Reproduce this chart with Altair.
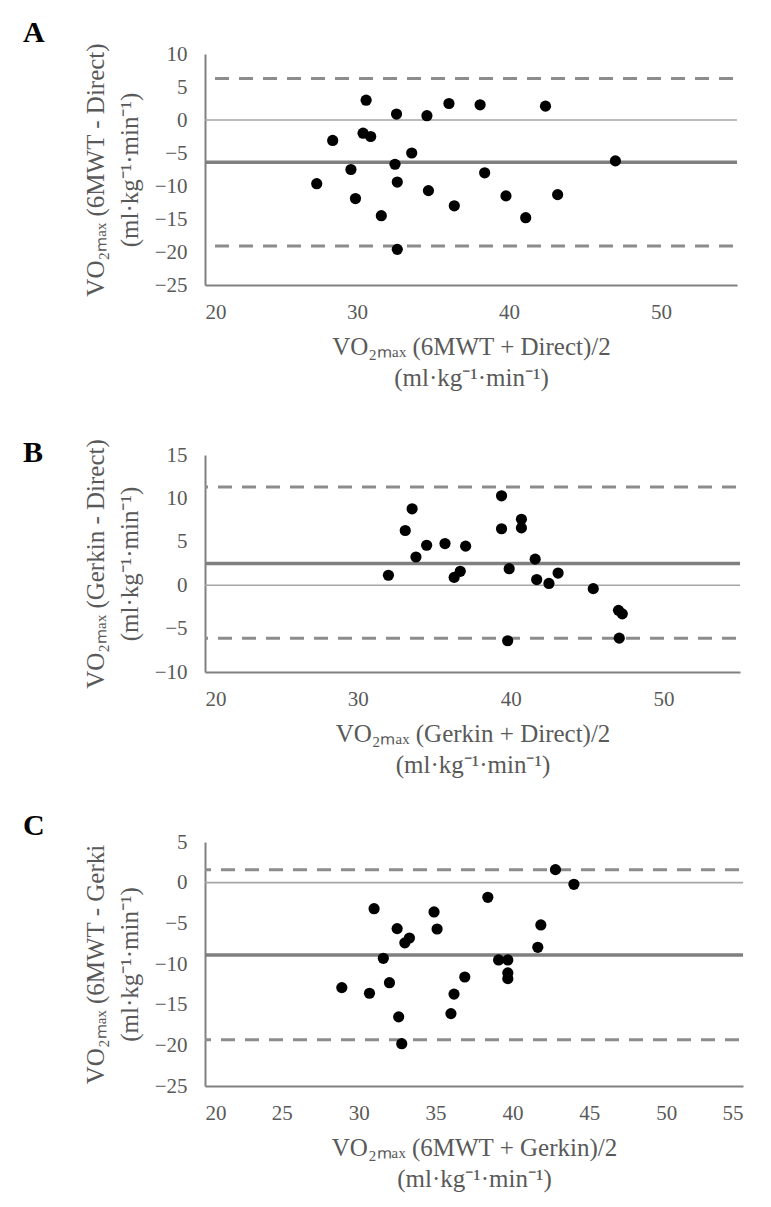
import altair as alt
import pandas as pd

FONT = "'Liberation Serif', 'Times New Roman', Times, serif"
TXT = "#595959"

# ---------------- Panel A: 6MWT vs Direct ----------------
a_mean = [27.35, 28.4, 29.6, 29.9, 30.6, 30.4, 30.9, 31.6, 32.6, 32.5, 32.65, 32.65,
          33.6, 34.6, 34.7, 36.05, 36.4, 38.1, 38.4, 39.8, 41.1, 42.4, 43.2, 47.0]
a_diff = [-9.65, -3.1, -7.5, -11.9, 3.0, -2.0, -2.5, -14.5, 0.9, -6.7, -9.4, -19.6,
          -5.0, 0.65, -10.7, 2.5, -13.0, 2.3, -8.0, -11.5, -14.8, 2.1, -11.3, -6.2]
a_bias = -6.4
a_loa = [6.3, -19.1]

# ---------------- Panel B: Gerkin vs Direct ----------------
b_mean = [32.0, 33.1, 33.55, 33.8, 34.5, 35.7, 36.3, 36.7, 37.05, 39.4, 39.4, 39.9,
          39.8, 40.7, 40.7, 41.6, 41.7, 42.5, 43.1, 45.4, 47.05, 47.3, 47.1]
b_diff = [1.15, 6.3, 8.8, 3.25, 4.6, 4.8, 0.9, 1.6, 4.5, 10.3, 6.5, 1.9,
          -6.4, 7.6, 6.6, 3.0, 0.65, 0.2, 1.4, -0.4, -2.9, -3.3, -6.1]
b_bias = 2.5
b_loa = [11.3, -6.1]

# ---------------- Panel C: 6MWT vs Gerkin ----------------
c_mean = [28.9, 30.7, 31.0, 31.6, 32.0, 32.5, 32.6, 32.8, 33.0, 33.3, 34.9, 35.1,
          36.0, 36.2, 36.9, 38.4, 39.1, 39.7, 39.7, 39.7, 41.65, 41.85, 42.8, 44.0]
c_diff = [-12.9, -13.6, -3.2, -9.3, -12.3, -5.65, -16.5, -19.8, -7.4, -6.8, -3.6, -5.7,
          -16.1, -13.7, -11.6, -1.8, -9.5, -9.5, -11.1, -11.8, -7.95, -5.2, 1.6, -0.2]
c_bias = -8.9
c_loa = [1.6, -19.3]

UNIT = "(ml·kg⁻¹·min⁻¹)"
VO = "VO₂ₘₐₓ"


def panel(letter, xs, ys, bias, loa, xdom, xticks, ydom, yticks, ytitle, xtitle,
          width, height, letter_y):
    xscale = alt.Scale(domain=xdom, nice=False, zero=False)
    yscale = alt.Scale(domain=ydom, nice=False, zero=False)
    xaxis = alt.Axis(values=xticks, title=[xtitle, UNIT], labelPadding=16,
                     titlePadding=12, titleLineHeight=31)
    yaxis = alt.Axis(values=yticks, title=[ytitle, UNIT], labelPadding=18,
                     titlePadding=12, titleLineHeight=34)

    pts = pd.DataFrame({"x": xs, "y": ys})
    points = alt.Chart(pts).mark_circle(size=125, color="black", opacity=1).encode(
        x=alt.X("x:Q", scale=xscale, axis=xaxis),
        y=alt.Y("y:Q", scale=yscale, axis=yaxis),
    )
    zero = alt.Chart(pd.DataFrame({"y": [0]})).mark_rule(
        color="#a6a6a6", strokeWidth=1.6).encode(y=alt.Y("y:Q", scale=yscale, axis=yaxis))
    mean = alt.Chart(pd.DataFrame({"y": [bias]})).mark_rule(
        color="#7f7f7f", strokeWidth=3.5).encode(y=alt.Y("y:Q", scale=yscale, axis=yaxis))
    limits = alt.Chart(pd.DataFrame({"y": loa})).mark_rule(
        color="#8c8c8c", strokeWidth=3, strokeDash=[14, 10], strokeDashOffset=-4).encode(
        y=alt.Y("y:Q", scale=yscale, axis=yaxis))
    lab = alt.Chart(pd.DataFrame({"t": [letter]})).mark_text(
        align="left", baseline="alphabetic", font=FONT, fontSize=30,
        fontWeight="bold", color="black").encode(
        text="t:N", x=alt.value(-182), y=alt.value(letter_y))
    return alt.layer(zero, mean, limits, points, lab).properties(width=width, height=height)


pA = panel("A", a_mean, a_diff, a_bias, a_loa, [20, 55], [20, 30, 40, 50],
           [-25, 10], list(range(-25, 11, 5)), f"{VO} (6MWT - Direct)",
           f"{VO} (6MWT + Direct)/2", 532, 231, -12)
pB = panel("B", b_mean, b_diff, b_bias, b_loa, [20, 55], [20, 30, 40, 50],
           [-10, 15], list(range(-10, 16, 5)), f"{VO} (Gerkin - Direct)",
           f"{VO} (Gerkin + Direct)/2", 535, 217, 7)
pC = panel("C", c_mean, c_diff, c_bias, c_loa, [20, 55], list(range(20, 56, 5)),
           [-25, 5], list(range(-25, 6, 5)), f"{VO} (6MWT - Gerki",
           f"{VO} (6MWT + Gerkin)/2", 538, 244, -7)

chart = alt.vconcat(pA, pB, pC, spacing=170, bounds="flush").properties(
    padding={"left": 15, "top": 10, "right": 5, "bottom": 5}
).configure_view(stroke=None).configure_axis(
    labelFont=FONT, labelFontSize=21, labelColor=TXT,
    titleFont=FONT, titleFontSize=25, titleColor=TXT, titleFontWeight="normal",
    domainColor="#808080", domainWidth=2, ticks=False, grid=False,
).configure_axisY(domain=True).configure_axisX(domain=True)

chart.save("out.html", embed_options={"renderer": "svg", "actions": False})
